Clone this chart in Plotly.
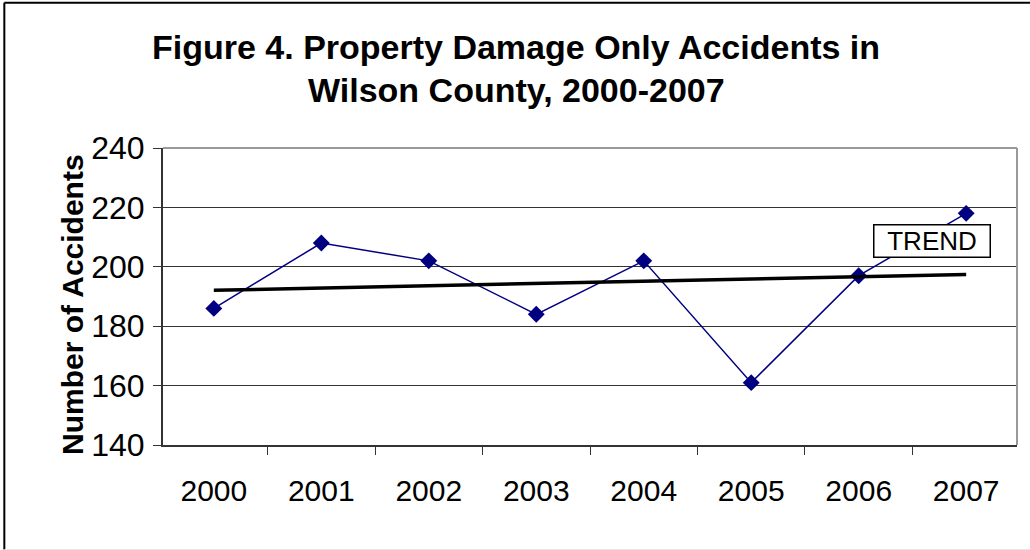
import plotly.graph_objects as go
import numpy as np

# Data
years = ["2000", "2001", "2002", "2003", "2004", "2005", "2006", "2007"]
accidents = [186, 208, 202, 184, 202, 161, 197, 218]
y_ticks = [140, 160, 180, 200, 220, 240]

# Linear trend line (least squares over the years)
idx = np.arange(len(years))
slope, intercept = np.polyfit(idx, accidents, 1)
trend = slope * idx + intercept

FONT = "Liberation Sans, Arial, sans-serif"
NAVY = "#000080"
AXIS = "#333333"

fig = go.Figure()

fig.add_trace(go.Scatter(
    x=years, y=accidents,
    mode="lines+markers",
    line=dict(color=NAVY, width=1.5),
    marker=dict(symbol="diamond", size=13, color=NAVY),
    hovertemplate="%{x}: %{y}<extra></extra>",
))

fig.add_trace(go.Scatter(
    x=years, y=trend,
    mode="lines",
    line=dict(color="black", width=3.5),
    hoverinfo="skip",
))

fig.update_layout(
    width=1030, height=550,
    margin=dict(l=163, r=13, t=148, b=105),
    paper_bgcolor="white", plot_bgcolor="white",
    showlegend=False,
    font=dict(family=FONT, color="black"),
    xaxis=dict(
        type="category",
        showline=True, linecolor=AXIS, linewidth=2,
        showgrid=False,
        ticks="outside", tickson="boundaries", ticklen=8, tickcolor=AXIS,
        tickfont=dict(size=30, family=FONT, color="black"),
        ticklabelstandoff=18,
        fixedrange=True,
    ),
    yaxis=dict(
        range=[140, 240],
        tickvals=y_ticks,
        showline=True, linecolor=AXIS, linewidth=2,
        showgrid=True, gridcolor=AXIS, gridwidth=1,
        zeroline=False,
        ticks="outside", ticklen=8, tickcolor=AXIS,
        tickfont=dict(size=32, family=FONT, color="black"),
        ticklabelstandoff=2,
        fixedrange=True,
    ),
)

# Plot area border (top / right) in light gray
fig.add_shape(type="line", xref="paper", yref="paper", x0=0, x1=1, y0=1, y1=1,
              line=dict(color="#999999", width=2))
fig.add_shape(type="line", xref="paper", yref="paper", x0=1, x1=1, y0=0, y1=1,
              line=dict(color="#999999", width=2))

# Outer chart frame
fig.add_shape(type="line", xref="paper", yref="paper", x0=-0.1858, x1=1.02, y0=1.489, y1=1.489,
              line=dict(color="black", width=2))
fig.add_shape(type="line", xref="paper", yref="paper", x0=-0.1858, x1=-0.1858, y0=-0.352, y1=1.489,
              line=dict(color="black", width=2))
fig.add_shape(type="line", xref="paper", yref="paper", x0=-0.1858, x1=1.02, y0=-0.352, y1=-0.352,
              line=dict(color="#e6e6e6", width=1))

# Title (two lines)
fig.add_annotation(text="<b>Figure 4. Property Damage Only Accidents in</b>",
                   xref="paper", yref="paper", x=0.4138, y=(445 - 47) / 297,
                   xanchor="center", yanchor="middle", showarrow=False,
                   font=dict(size=34, family=FONT, color="black"))
fig.add_annotation(text="<b>Wilson County, 2000-2007</b>",
                   xref="paper", yref="paper", x=0.4138, y=(445 - 90) / 297,
                   xanchor="center", yanchor="middle", showarrow=False,
                   font=dict(size=34, family=FONT, color="black"))

# Y axis title
fig.add_annotation(text="<b>Number of Accidents</b>",
                   xref="paper", yref="paper", x=(72 - 163) / 854, y=(445 - 305) / 297,
                   xanchor="center", yanchor="middle", showarrow=False, textangle=-90,
                   font=dict(size=30, family=FONT, color="black"))

# TREND label
fig.add_annotation(text="TREND",
                   xref="paper", yref="paper", x=(932 - 163) / 854, y=(445 - 241) / 297,
                   xanchor="center", yanchor="middle", showarrow=False,
                   bgcolor="white", bordercolor="black", borderwidth=1.5, borderpad=2,
                   width=111, height=27,
                   font=dict(size=26, family=FONT, color="black"))

# page body has an 8px default margin; drop it so the figure sits at the window origin
fig.write_html("out.html", config={"displayModeBar": False},
               post_script="document.body.style.margin='0';")
